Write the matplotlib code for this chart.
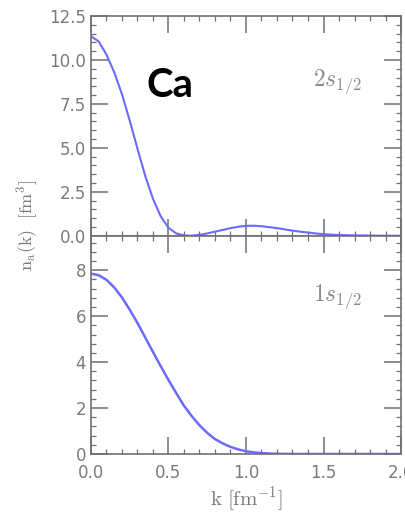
import matplotlib
matplotlib.use("Agg")
import matplotlib.pyplot as plt
from matplotlib.ticker import MultipleLocator

plt.rcParams['mathtext.fontset'] = 'cm'

# momentum grid [fm^-1]
k = [0.00, 0.05, 0.10, 0.15, 0.20, 0.25, 0.30, 0.35, 0.40, 0.45,
     0.50, 0.55, 0.60, 0.65, 0.70, 0.75, 0.80, 0.85, 0.90, 0.95,
     1.00, 1.05, 1.10, 1.15, 1.20, 1.25, 1.30, 1.35, 1.40, 1.45,
     1.50, 1.55, 1.60, 1.65, 1.70, 1.75, 1.80, 1.85, 1.90, 1.95, 2.00]

# 2s1/2 momentum distribution
n_2s = [11.35, 11.05, 10.30, 9.30, 8.05, 6.55, 4.95, 3.40, 2.10, 1.10,
        0.45, 0.13, 0.02, 0.00, 0.05, 0.13, 0.23, 0.33, 0.43, 0.51,
        0.56, 0.57, 0.54, 0.49, 0.43, 0.36, 0.29, 0.23, 0.18, 0.13,
        0.09, 0.06, 0.04, 0.03, 0.02, 0.015, 0.01, 0.005, 0.0, 0.0, 0.0]

# 1s1/2 momentum distribution
n_1s = [7.85, 7.78, 7.58, 7.25, 6.81, 6.28, 5.70, 5.07, 4.44, 3.82,
        3.22, 2.65, 2.10, 1.65, 1.25, 0.92, 0.65, 0.46, 0.31, 0.20,
        0.12, 0.07, 0.04, 0.02, 0.01, 0.005, 0.0, 0.0, 0.0, 0.0,
        0.0, 0.0, 0.0, 0.0, 0.0, 0.0, 0.0, 0.0, 0.0, 0.0, 0.0]

top_ticks = [0.0, 2.5, 5.0, 7.5, 10.0, 12.5]
bot_ticks = [0, 2, 4, 6, 8]
x_ticks = [0.0, 0.5, 1.0, 1.5, 2.0]

line_col = '#6b6bff'
axis_col = '#707070'
text_col = '#7a7a7a'

fig = plt.figure(figsize=(4.06, 5.13), dpi=100)
ax1 = fig.add_axes([0.2241, 0.5405, 0.7636, 0.4283])
ax2 = fig.add_axes([0.2241, 0.115, 0.7636, 0.4255])


def style(ax):
    for s in ax.spines.values():
        s.set_color(axis_col)
        s.set_linewidth(1.2)
    ax.tick_params(which='both', direction='in', top=True, right=True,
                   color=axis_col, labelcolor=text_col, labelsize=12)
    ax.tick_params(which='major', length=12, width=1.1)
    ax.tick_params(which='minor', length=3.5, width=0.9)
    ax.xaxis.set_minor_locator(MultipleLocator(0.1))
    ax.set_xlim(0, 2.0)
    ax.set_xticks(x_ticks)


ax1.plot(k, n_2s, color=line_col, lw=1.5)
style(ax1)
ax1.set_ylim(0, 12.5)
ax1.set_yticks(top_ticks)
ax1.set_yticklabels(['%.1f' % t for t in top_ticks])
ax1.yaxis.set_minor_locator(MultipleLocator(0.5))
ax1.tick_params(labelbottom=False)
ax1.text(0.875, 0.70, r'$2s_{1/2}$', transform=ax1.transAxes, ha='right',
         va='center', fontsize=17, color='#8a8a8a')

ax2.plot(k, n_1s, color=line_col, lw=1.8)
style(ax2)
ax2.set_ylim(0, 9.5)
ax2.set_yticks(bot_ticks)
ax2.set_yticklabels([str(t) for t in bot_ticks])
ax2.yaxis.set_minor_locator(MultipleLocator(0.4))
ax2.set_xticklabels(['%.1f' % t for t in x_ticks])
ax2.tick_params(axis='x', pad=7)
ax2.text(0.875, 0.72, r'$1s_{1/2}$', transform=ax2.transAxes, ha='right',
         va='center', fontsize=17, color='#8a8a8a')
ax2.set_xlabel(r'$\mathrm{k\ [fm^{-1}]}$', fontsize=15, color=text_col, labelpad=2)

fig.text(0.068, 0.56, r'$\mathrm{n_a(k)\ \ [fm^3]}$', rotation=90, ha='center',
         va='center', fontsize=13, color=text_col)

fig.text(0.362, 0.81, 'Ca', fontsize=29, fontweight='bold', fontfamily='Lato',
         color='black', ha='left', va='baseline')

fig.savefig('out.png', dpi=100)
